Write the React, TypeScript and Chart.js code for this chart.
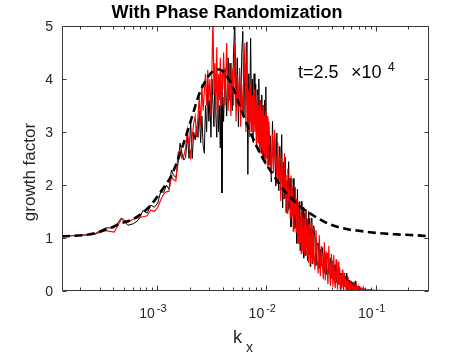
import React, { useEffect, useRef } from "react";
import { Chart, registerables } from "chart.js";

Chart.register(...registerables);

// wavenumber spacing: k_x = mode * DK
const DK = 6.8e-5;
const X_MIN = 1.36e-4;
const X_MAX = 0.308;

const modeIndex = [
  2, 3, 4, 5, 6, 7, 8, 9, 10, 11, 12, 13, 14, 15, 16, 17, 18, 19, 20, 21, 22, 23, 24, 25, 26, 27, 28, 29, 30, 31, 32, 33, 34,
  35, 36, 37, 38, 39, 40, 41, 42, 43, 44, 45, 46, 47, 48, 49, 50, 51, 52, 53, 54, 55, 56, 57, 58, 59, 60,
  62, 64, 66, 68, 70, 72, 74, 76, 78, 80, 82, 84, 86, 88, 90, 92, 94, 96, 98, 100, 102, 104, 106, 108, 110, 112, 114, 116, 118, 120, 122, 124, 126, 128, 130, 132, 134, 136, 138, 140, 142, 144, 146, 148, 150,
  152, 156, 160, 164, 168, 172, 176, 180, 184, 188, 192, 196, 200, 204, 208, 212, 216, 220, 224, 228, 232, 236, 240, 244, 248, 252, 256, 260, 264, 268, 272, 276, 280, 284, 288, 292, 296, 300, 304, 308, 312, 316, 320, 324, 328, 332, 336, 340, 344, 348, 352, 356, 360, 364, 368, 372, 376, 380, 384, 388, 392, 396, 400,
  410, 420, 430, 440, 450, 460, 470, 480, 490, 500, 510, 520, 530, 540, 550, 560, 570, 580, 590, 600,
  610, 620, 630, 640, 650, 660, 670, 680, 690, 700, 710, 720, 730, 740, 750, 760, 770, 780, 790, 800,
  810, 820, 830, 840, 850, 860, 870, 880, 890, 900, 910, 920, 930, 940, 950, 960, 970, 980, 990, 1000,
  1010, 1020, 1030, 1040, 1050, 1060, 1070, 1080, 1090, 1100, 1110, 1120, 1130, 1140, 1150, 1160, 1170, 1180, 1190, 1200,
  1300, 1400, 1500, 1700, 1900, 2100, 2400, 2700, 3000, 3400, 3800, 4200, 4500,
];

const growthBlack = [
  1.04, 1.05, 1.08, 1.19, 1.19, 1.38, 1.24, 1.27, 1.34, 1.52, 1.47, 1.62, 1.58, 1.66, 1.88, 1.86, 2.0, 1.92, 2.28, 2.18, 2.14, 2.4, 2.79, 2.6, 2.47, 2.52, 2.94, 2.5, 3.2, 2.5, 3.0, 2.85, 3.1,
  2.9, 3.4, 2.8, 3.3, 2.75, 2.6, 3.5, 3.0, 3.9, 3.2, 3.6, 2.9, 4.0, 3.5, 3.1, 4.1, 3.3, 2.9, 3.8, 3.0, 3.5, 2.7, 3.9, 1.85, 3.66, 3.2,
  4.2, 3.3, 4.4, 3.6, 4.3, 3.4, 4.5, 5.1, 3.5, 4.4, 3.1, 4.2, 3.4, 4.5, 4.9, 3.3, 4.3, 3.6, 4.7, 2.2, 4.1, 3.2, 4.77, 3.4, 4.0, 2.8, 4.1, 3.2, 3.9, 2.7, 3.8, 3.0, 4.0, 2.8, 3.6, 2.6, 3.7, 2.9, 3.5, 2.5, 3.6, 2.8, 3.85, 2.6, 3.2,
  3.26, 2.37, 2.93, 2.06, 3.2, 2.4, 2.89, 1.98, 2.98, 2.29, 1.89, 2.73, 2.03, 2.95, 1.57, 2.43, 1.74, 2.52, 1.48, 2.08,
  1.52, 2.44, 1.56, 2.13, 1.21, 1.93, 1.47, 2.12, 1.17, 1.93, 1.19, 1.57, 0.9, 1.92, 1.25, 0.94, 1.69, 0.76, 1.23, 1.69,
  0.88, 1.38, 1.58, 0.62, 0.93, 1.47, 0.67, 1.54, 0.91, 1.35, 0.57, 1.16, 1.5, 0.69, 1.37, 0.46, 1.18, 0.73, 1.38, 0.51,
  1.17, 0.62, 1.23,
  1.03, 0.48, 0.86, 0.91, 0.43, 0.79, 0.47, 0.82, 0.6, 0.34, 0.71, 0.31, 0.63, 0.72, 0.32, 0.55, 0.62, 0.24, 0.47, 0.57,
  0.21, 0.48, 0.5, 0.17, 0.4, 0.41, 0.14, 0.34, 0.16, 0.34, 0.11, 0.29, 0.14, 0.26, 0.3, 0.09, 0.21, 0.28, 0.1, 0.34,
  0.26, 0.02, 0.2, 0.06, 0.2, 0.17, 0.01, 0.18, 0.03, 0.15, 0.02, 0.17, 0.04, 0.12, 0.01, 0.19, 0.02, 0.1, 0.03, 0.08,
  0.01, 0.07, 0.02, 0.09, 0.01, 0.05, 0.02, 0.06, 0.01, 0.04, 0.01, 0.05, 0.01, 0.03, 0.01, 0.04, 0.01, 0.02, 0.01, 0.02,
  0.02, 0.015, 0.01, 0.012, 0.005, 0.008, 0.004, 0.003, 0.003, 0.002, 0.002, 0.002, 0.002,
];

const growthRed = [
  1.04, 1.05, 1.07, 1.14, 1.11, 1.36, 1.3, 1.36, 1.38, 1.4, 1.42, 1.53, 1.5, 1.58, 1.72, 1.83, 1.87, 1.88, 2.15, 2.1, 2.08, 2.6, 2.66, 2.5, 2.55, 2.7, 3.04, 2.75, 2.53, 2.9, 3.17, 3.3, 2.9,
  3.3, 3.66, 3.1, 3.9, 3.4, 3.75, 4.1, 3.5, 4.17, 3.6, 4.0, 3.3, 4.2, 5.2, 3.7, 4.3, 3.4, 4.6, 3.23, 4.1, 3.6, 4.4, 3.5, 4.17, 3.8, 4.5,
  3.5, 4.68, 3.4, 4.3, 3.3, 4.2, 3.5, 4.68, 3.2, 4.1, 3.4, 4.2, 3.1, 3.9, 3.3, 4.0, 4.68, 3.0, 4.5, 3.1, 3.8, 2.9, 3.9, 3.0, 3.7, 2.8, 3.8, 3.0, 3.6, 2.7, 3.7, 2.8, 3.5, 2.6, 3.6, 2.7, 3.4, 2.5, 3.5, 2.6, 3.3, 2.4, 3.4, 2.5, 3.3,
  2.31, 3.2, 2.56, 2.14, 2.96, 2.23, 3.04, 2.48, 2.01, 2.8, 2.12, 2.56, 1.7, 2.53, 2.1, 1.73, 2.6, 1.76, 2.19, 1.47,
  2.31, 1.7, 1.92, 1.38, 2.18, 1.4, 1.95, 1.13, 1.71, 1.44, 1.96, 1.11, 1.74, 1.18, 0.9, 1.67, 1.25, 0.93, 1.44, 0.71,
  1.59, 1.01, 0.76, 1.39, 1.15, 0.67, 1.53, 0.82, 1.22, 0.66, 1.37, 0.9, 0.53, 1.27, 0.77, 1.02, 0.52, 1.29, 0.62, 1.08,
  0.52, 1.18, 0.7,
  0.4, 1.15, 0.6, 0.33, 1.05, 0.28, 0.85, 0.5, 0.22, 0.92, 0.2, 0.75, 0.4, 0.13, 0.85, 0.3, 0.1, 0.7, 0.45, 0.08,
  0.68, 0.2, 0.05, 0.6, 0.3, 0.03, 0.55, 0.12, 0.45, 0.02, 0.3, 0.05, 0.4, 0.12, 0.02, 0.34, 0.08, 0.25, 0.02, 0.2,
  0.05, 0.26, 0.01, 0.18, 0.06, 0.02, 0.2, 0.04, 0.14, 0.01, 0.12, 0.03, 0.16, 0.01, 0.09, 0.02, 0.12, 0.01, 0.06, 0.02,
  0.08, 0.01, 0.06, 0.02, 0.09, 0.01, 0.04, 0.01, 0.05, 0.01, 0.04, 0.01, 0.03, 0.01, 0.05, 0.01, 0.02, 0.01, 0.03, 0.01,
  0.02, 0.01, 0.015, 0.01, 0.005, 0.01, 0.005, 0.003, 0.004, 0.002, 0.003, 0.002, 0.002,
];

const kTheory = [
  1.36e-4, 2.45e-4, 3.54e-4, 4.62e-4, 6.12e-4, 8.64e-4, 1.136e-3, 1.36e-3, 1.734e-3, 2.094e-3, 2.448e-3, 2.856e-3,
  3.264e-3, 3.672e-3, 4.012e-3, 4.488e-3, 4.964e-3, 5.712e-3, 7.072e-3, 9.316e-3, 1.156e-2, 1.414e-2, 1.7e-2,
  2.026e-2, 2.72e-2, 3.808e-2, 5.44e-2, 6.8e-2, 8.84e-2, 0.1088, 0.1496, 0.1904, 0.2448, 0.306,
];
const gTheory = [
  1.03, 1.07, 1.17, 1.27, 1.36, 1.6, 1.93, 2.18, 2.75, 3.28, 3.72, 4.0,
  4.15, 4.18, 4.15, 4.02, 3.85, 3.5, 3.02, 2.5, 2.2, 1.93, 1.75,
  1.6, 1.42, 1.26, 1.17, 1.14, 1.11, 1.09, 1.07, 1.06, 1.05, 1.03,
];

const yTickValues = [0, 1, 2, 3, 4, 5];
const xDecades = [1e-3, 1e-2, 1e-1];
const xDecadeExponents = ["-3", "-2", "-1"];
const TITLE = "With Phase Randomization";
const Y_LABEL = "growth factor";
const X_LABEL_MAIN = "k";
const X_LABEL_SUB = "x";
const NOTE_MAIN = "t=2.5";
const NOTE_TIMES = "\u00d710";
const NOTE_EXP = "4";

const FONT = '"Liberation Sans", Arial, Helvetica, sans-serif';
const TEXT_COLOR = "#262626";

const decorations = {
  id: "decorations",
  afterDatasetsDraw(chart: any) {
    const { ctx, chartArea: a, scales } = chart;
    const xs = scales.x;
    const ys = scales.y;
    ctx.save();
    ctx.strokeStyle = "#3a3a3a";
    ctx.lineWidth = 1;
    const L = Math.round(a.left) + 0.5;
    const R = Math.round(a.right) - 0.5;
    const T = Math.round(a.top) + 0.5;
    const B = Math.round(a.bottom) - 0.5;
    ctx.beginPath();
    ctx.rect(L, T, R - L, B - T);
    for (let e = -4; e <= -1; e++) {
      for (let m = 1; m <= 9; m++) {
        const v = m * Math.pow(10, e);
        if (v < X_MIN || v > X_MAX) continue;
        const px = Math.round(xs.getPixelForValue(v)) + 0.5;
        const len = m === 1 ? 5 : 3;
        ctx.moveTo(px, B);
        ctx.lineTo(px, B - len);
        ctx.moveTo(px, T);
        ctx.lineTo(px, T + len);
      }
    }
    for (const v of yTickValues) {
      const py = Math.round(ys.getPixelForValue(v)) + 0.5;
      ctx.moveTo(L, py);
      ctx.lineTo(L + 4, py);
      ctx.moveTo(R, py);
      ctx.lineTo(R - 4, py);
    }
    ctx.stroke();
    ctx.restore();
  },
  afterDraw(chart: any) {
    const { ctx, scales } = chart;
    const xs = scales.x;
    const ys = scales.y;
    ctx.save();
    ctx.textBaseline = "alphabetic";

    // title
    ctx.fillStyle = "#000";
    ctx.font = `bold 18px ${FONT}`;
    ctx.textAlign = "center";
    ctx.fillText(TITLE, 227, 18);

    // y tick labels
    ctx.fillStyle = TEXT_COLOR;
    ctx.font = `14px ${FONT}`;
    ctx.textAlign = "right";
    ctx.textBaseline = "middle";
    for (const v of yTickValues) {
      ctx.fillText(String(v), 53, ys.getPixelForValue(v) + 1);
    }

    // x tick labels with superscript exponents
    ctx.textBaseline = "alphabetic";
    xDecades.forEach((v, i) => {
      const px = xs.getPixelForValue(v);
      ctx.font = `14px ${FONT}`;
      ctx.textAlign = "right";
      ctx.fillText("10", px - 2, 318);
      ctx.font = `11px ${FONT}`;
      ctx.textAlign = "left";
      ctx.fillText(xDecadeExponents[i], px, 312);
    });

    // x axis label k_x
    ctx.textAlign = "left";
    ctx.font = `18px ${FONT}`;
    ctx.fillText(X_LABEL_MAIN, 233, 343);
    ctx.font = `14px ${FONT}`;
    ctx.fillText(X_LABEL_SUB, 246, 352);

    // y axis label
    ctx.save();
    ctx.translate(35, 172);
    ctx.rotate(-Math.PI / 2);
    ctx.font = `17px ${FONT}`;
    ctx.textAlign = "center";
    ctx.fillText(Y_LABEL, 0, 0);
    ctx.restore();

    // annotation
    ctx.fillStyle = "#000";
    ctx.textAlign = "left";
    ctx.font = `18px ${FONT}`;
    ctx.fillText(NOTE_MAIN, 298, 78);
    ctx.fillText(NOTE_TIMES, 351, 78);
    ctx.font = `12px ${FONT}`;
    ctx.fillText(NOTE_EXP, 388, 71);

    ctx.restore();
  },
};

export default function App() {
  const canvasRef = useRef<HTMLCanvasElement | null>(null);

  useEffect(() => {
    const canvas = canvasRef.current;
    if (!canvas) return;
    const blackData = modeIndex.map((n, i) => ({ x: n * DK, y: growthBlack[i] }));
    const redData = modeIndex.map((n, i) => ({ x: n * DK, y: growthRed[i] }));
    const theoryData = kTheory.map((k, i) => ({ x: k, y: gTheory[i] }));

    const chart = new Chart(canvas, {
      type: "line",
      data: {
        datasets: [
          {
            label: "theory",
            data: theoryData,
            borderColor: "#000000",
            borderWidth: 2.6,
            borderDash: [8, 4.5],
            pointRadius: 0,
            cubicInterpolationMode: "monotone",
            order: 0,
          },
          {
            label: "red",
            data: redData,
            borderColor: "#ff0000",
            borderWidth: 1.15,
            pointRadius: 0,
            tension: 0,
            order: 1,
          },
          {
            label: "black",
            data: blackData,
            borderColor: "#000000",
            borderWidth: 1,
            pointRadius: 0,
            tension: 0,
            order: 2,
          },
        ],
      },
      options: {
        animation: false,
        responsive: false,
        maintainAspectRatio: false,
        events: [],
        layout: { padding: { left: 62, right: 45, top: 26, bottom: 65 } },
        plugins: {
          legend: { display: false },
          tooltip: { enabled: false },
          title: { display: false },
        },
        scales: {
          x: { type: "logarithmic", min: X_MIN, max: X_MAX, display: false },
          y: { type: "linear", min: 0, max: 5, display: false },
        },
      },
      plugins: [decorations],
    } as any);

    return () => chart.destroy();
  }, []);

  return (
    <div style={{ position: "fixed", left: 0, top: 0, width: 474, height: 356, background: "#fff" }}>
      <canvas ref={canvasRef} width={474} height={356} style={{ display: "block", width: 474, height: 356 }} />
    </div>
  );
}
